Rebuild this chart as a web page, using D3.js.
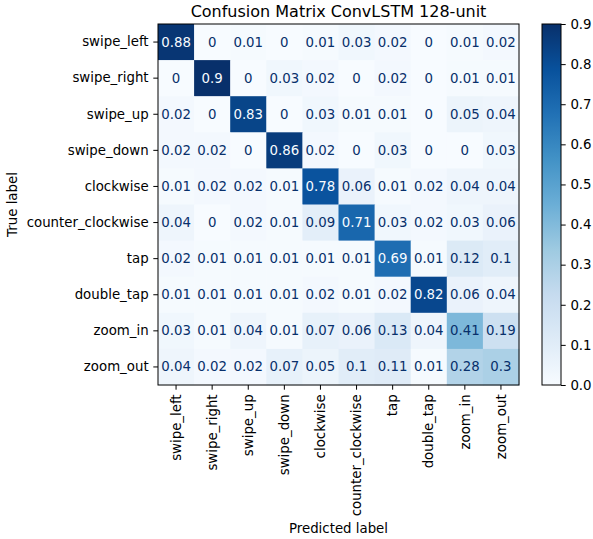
<!DOCTYPE html>
<html>
<head>
<meta charset="utf-8">
<script src="https://cdn.jsdelivr.net/npm/d3@7"></script>
<style>
  body { margin: 0; background: #fff; }
  svg text { font-family: "DejaVu Sans", sans-serif; }
</style>
</head>
<body>
<svg width="593" height="539"></svg>
<script>
var labels = ['swipe_left', 'swipe_right', 'swipe_up', 'swipe_down', 'clockwise',
              'counter_clockwise', 'tap', 'double_tap', 'zoom_in', 'zoom_out'];
var matrix = [
  [0.88, 0, 0.01, 0, 0.01, 0.03, 0.02, 0, 0.01, 0.02],
  [0, 0.9, 0, 0.03, 0.02, 0, 0.02, 0, 0.01, 0.01],
  [0.02, 0, 0.83, 0, 0.03, 0.01, 0.01, 0, 0.05, 0.04],
  [0.02, 0.02, 0, 0.86, 0.02, 0, 0.03, 0, 0, 0.03],
  [0.01, 0.02, 0.02, 0.01, 0.78, 0.06, 0.01, 0.02, 0.04, 0.04],
  [0.04, 0, 0.02, 0.01, 0.09, 0.71, 0.03, 0.02, 0.03, 0.06],
  [0.02, 0.01, 0.01, 0.01, 0.01, 0.01, 0.69, 0.01, 0.12, 0.1],
  [0.01, 0.01, 0.01, 0.01, 0.02, 0.01, 0.02, 0.82, 0.06, 0.04],
  [0.03, 0.01, 0.04, 0.01, 0.07, 0.06, 0.13, 0.04, 0.41, 0.19],
  [0.04, 0.02, 0.02, 0.07, 0.05, 0.1, 0.11, 0.01, 0.28, 0.3]
];
var cbarTicks = [0, 0.1, 0.2, 0.3, 0.4, 0.5, 0.6, 0.7, 0.8, 0.9];

var mLeft = 158, mTop = 24, size = 361;
var fs = 13.33, tick = 4.7, pad = 4.7;

var svg = d3.select('svg');

var vmax = d3.max(matrix, function(r) { return d3.max(r); });
var vmin = d3.min(matrix, function(r) { return d3.min(r); });
var blues = d3.schemeBlues[9];
// matplotlib Blues: linear segments between the 9 brewer colours
var color = d3.scaleLinear()
  .domain(d3.range(9).map(function(i) { return vmin + (vmax - vmin) * i / 8; }))
  .range(blues)
  .interpolate(d3.interpolateRgb);

var x = d3.scaleBand().domain(labels).range([mLeft, mLeft + size]);
var y = d3.scaleBand().domain(labels).range([mTop, mTop + size]);

var cells = [];
matrix.forEach(function(row, i) {
  row.forEach(function(v, j) {
    cells.push({ r: labels[i], c: labels[j], v: v });
  });
});

var main = svg.append('g').classed('main', true);

main.selectAll('rect.cell')
  .data(cells)
  .enter()
  .append('rect')
  .attr('class', 'cell')
  .attr('x', function(d) { return x(d.c); })
  .attr('y', function(d) { return y(d.r); })
  .attr('width', x.bandwidth() + 0.5)
  .attr('height', y.bandwidth() + 0.5)
  .attr('fill', function(d) { return color(d.v); });

var thresh = (vmax + vmin) / 2;
main.selectAll('text.val')
  .data(cells)
  .enter()
  .append('text')
  .attr('class', 'val')
  .attr('x', function(d) { return x(d.c) + x.bandwidth() / 2; })
  .attr('y', function(d) { return y(d.r) + y.bandwidth() / 2; })
  .attr('text-anchor', 'middle')
  .attr('dominant-baseline', 'central')
  .attr('font-size', fs)
  .attr('fill', function(d) { return d.v < thresh ? '#08306b' : '#f7fbff'; })
  .text(function(d) { return String(d.v); });

// frame
main.append('rect')
  .attr('x', mLeft).attr('y', mTop)
  .attr('width', size).attr('height', size)
  .attr('fill', 'none').attr('stroke', '#000').attr('stroke-width', 1);

var xAxis = svg.append('g')
  .attr('transform', 'translate(0,' + (mTop + size) + ')')
  .call(d3.axisBottom(x).tickSize(tick).tickPadding(pad));
xAxis.select('.domain').remove();
xAxis.selectAll('text')
  .attr('font-size', fs)
  .attr('fill', '#000')
  .attr('transform', 'rotate(-90)')
  .attr('text-anchor', 'end')
  .attr('dy', '0.35em')
  .attr('x', -(tick + pad))
  .attr('y', 0);

var yAxis = svg.append('g')
  .attr('transform', 'translate(' + mLeft + ',0)')
  .call(d3.axisLeft(y).tickSize(tick).tickPadding(pad));
yAxis.select('.domain').remove();
yAxis.selectAll('text').attr('font-size', fs).attr('fill', '#000');

svg.append('text')
  .attr('x', mLeft + size / 2).attr('y', 17)
  .attr('text-anchor', 'middle')
  .attr('font-size', 16)
  .text('Confusion Matrix ConvLSTM 128-unit');

svg.append('text')
  .attr('x', mLeft + size / 2).attr('y', 533)
  .attr('text-anchor', 'middle')
  .attr('font-size', fs)
  .text('Predicted label');

svg.append('text')
  .attr('transform', 'translate(17,' + (mTop + size / 2) + ') rotate(-90)')
  .attr('text-anchor', 'middle')
  .attr('font-size', fs)
  .text('True label');

// colorbar
var cbX = 542, cbW = 19;
var cbScale = d3.scaleLinear().domain([vmin, vmax]).range([mTop + size, mTop]);
var defs = svg.append('defs');
var grad = defs.append('linearGradient')
  .attr('id', 'cbgrad')
  .attr('x1', 0).attr('y1', 1).attr('x2', 0).attr('y2', 0);
grad.selectAll('stop')
  .data(color.domain())
  .enter()
  .append('stop')
  .attr('offset', function(d) { return (d - vmin) / (vmax - vmin); })
  .attr('stop-color', function(d) { return color(d); });

svg.append('rect')
  .attr('x', cbX).attr('y', mTop)
  .attr('width', cbW).attr('height', size)
  .attr('fill', 'url(#cbgrad)')
  .attr('stroke', '#000').attr('stroke-width', 1);

var cbAxis = svg.append('g')
  .attr('transform', 'translate(' + (cbX + cbW) + ',0)')
  .call(d3.axisRight(cbScale).tickValues(cbarTicks).tickFormat(d3.format('.1f')).tickSize(tick).tickPadding(pad));
cbAxis.select('.domain').remove();
cbAxis.selectAll('text').attr('font-size', fs).attr('fill', '#000');
</script>
</body>
</html>
